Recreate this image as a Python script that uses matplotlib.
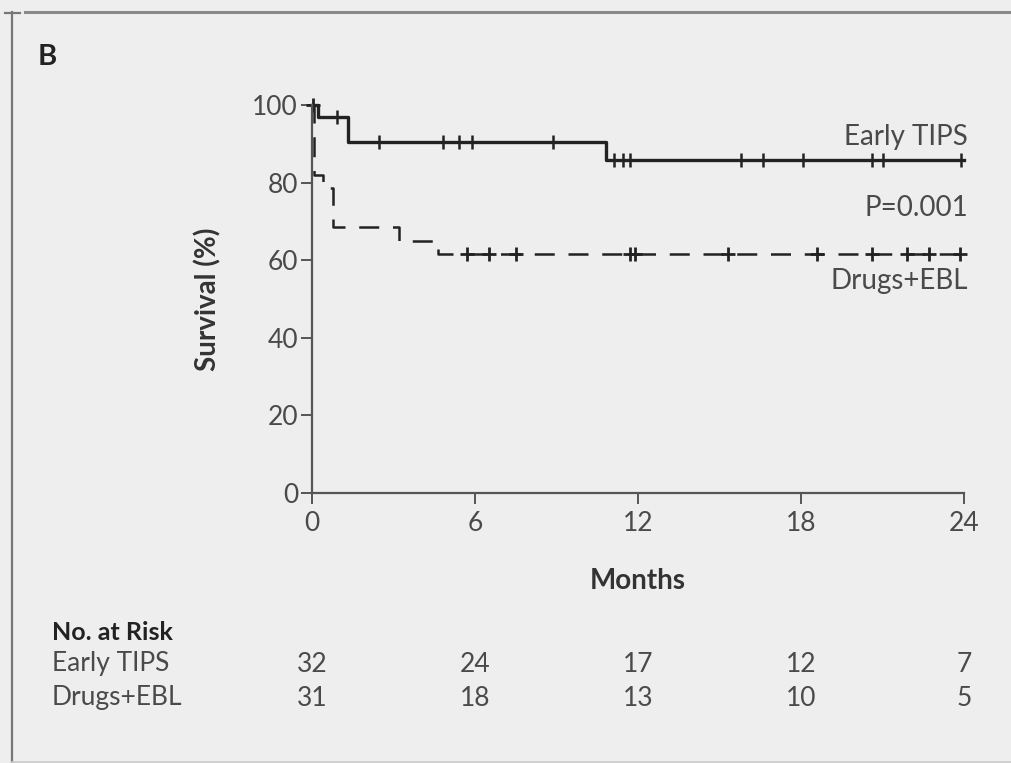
import matplotlib
matplotlib.use('Agg')
import matplotlib.pyplot as plt
from matplotlib.lines import Line2D

plt.rcParams['font.family'] = ['Lato', 'DejaVu Sans']

# Kaplan-Meier steps (months, survival %)
tips_t = [0, 0.22, 1.33, 10.82, 24]
tips_s = [100, 96.9, 90.4, 85.9, 85.9]
tips_cens_t = [0.92, 2.47, 4.82, 5.4, 5.9, 8.87, 11.1, 11.45, 11.7,
               15.8, 16.6, 18.07, 20.6, 21.0, 23.9]

ebl_t = [0, 0.08, 0.4, 0.78, 3.2, 4.65, 24]
ebl_s = [100, 82.0, 78.6, 68.6, 65.0, 61.6, 61.6]
ebl_cens_t = [0.05, 5.7, 6.5, 7.5, 11.7, 11.9, 15.3, 18.6, 20.6, 21.9, 22.7, 23.85]

months = [0, 6, 12, 18, 24]
risk_tips = [32, 24, 17, 12, 7]
risk_ebl = [31, 18, 13, 10, 5]


def surv_at(times, surv, t):
    s = surv[0]
    for ti, si in zip(times, surv):
        if ti <= t:
            s = si
    return s


bg = '#eeeeee'
ink = '#222222'
axis_col = '#555555'
txt_col = '#4a4a4a'
fs = 19

fig = plt.figure(figsize=(10.11, 7.63), dpi=100, facecolor=bg)

# panel frame lines
fig.add_artist(Line2D([25 / 1011, 1], [1 - 12 / 763] * 2, color='#8a8a8a', lw=2.2))
fig.add_artist(Line2D([12 / 1011] * 2, [0, 1 - 12 / 763], color='#777777', lw=1.6))
fig.add_artist(Line2D([5 / 1011, 20 / 1011], [1 - 13 / 763] * 2, color='#777777', lw=1.6))
fig.add_artist(Line2D([12 / 1011, 1], [1 - 762 / 763] * 2, color='#cccccc', lw=1.2))

ax = fig.add_axes([312 / 1011, 1 - 493 / 763, (964 - 312) / 1011, (493 - 105) / 763])
ax.set_facecolor(bg)
ax.set_xlim(0, 24)
ax.set_ylim(0, 100)

ax.step(tips_t, tips_s, where='post', color=ink, lw=2.4, clip_on=False)
ax.plot(tips_cens_t, [surv_at(tips_t, tips_s, t) for t in tips_cens_t], ls='none',
        marker='|', ms=10, mew=1.8, color=ink, clip_on=False)

ax.step(ebl_t, ebl_s, where='post', color=ink, lw=1.8, ls=(0, (8, 5.5)), clip_on=False)
ax.plot(ebl_cens_t, [surv_at(ebl_t, ebl_s, t) for t in ebl_cens_t], ls='none',
        marker='+', ms=10, mew=2, color=ink, clip_on=False)

for side in ['top', 'right']:
    ax.spines[side].set_visible(False)
for side in ['left', 'bottom']:
    ax.spines[side].set_color(axis_col)
    ax.spines[side].set_linewidth(1.6)

ax.set_xticks(months)
ax.set_yticks([0, 20, 40, 60, 80, 100])
ax.tick_params(direction='out', length=8, width=1.4, color=axis_col,
               labelsize=fs, labelcolor=txt_col)
ax.tick_params(axis='x', pad=5)
ax.tick_params(axis='y', pad=2)

ax.set_xlabel('Months', fontsize=20, fontweight='bold', color='#333333', labelpad=23)
ax.set_ylabel('Survival (%)', fontsize=20, fontweight='bold', color='#333333', labelpad=22)

ax.text(24.15, 88.5, 'Early TIPS', ha='right', va='bottom', fontsize=20, color=txt_col)
ax.text(24.15, 73.5, 'P=0.001', ha='right', va='center', fontsize=20, color=txt_col)
ax.text(24.15, 58.0, 'Drugs+EBL', ha='right', va='top', fontsize=20, color=txt_col)

fig.text(38 / 1011, 1 - 57 / 763, 'B', fontsize=21, fontweight='bold', color='#222222',
         va='center', ha='left')

# number-at-risk table
fig.text(52 / 1011, 1 - 633 / 763, 'No. at Risk', fontsize=18, fontweight='bold',
         color='#222222', va='center')
rows = [('Early TIPS', risk_tips, 664), ('Drugs+EBL', risk_ebl, 698)]
for name, counts, ypix in rows:
    yf = 1 - ypix / 763
    fig.text(52 / 1011, yf, name, fontsize=fs, color=txt_col, va='center')
    for m, n in zip(months, counts):
        xf = fig.transFigure.inverted().transform(ax.transData.transform((m, 0)))[0]
        fig.text(xf, yf, str(n), fontsize=fs, color=txt_col, va='center', ha='center')

fig.savefig('out.png', dpi=100, facecolor=bg)
